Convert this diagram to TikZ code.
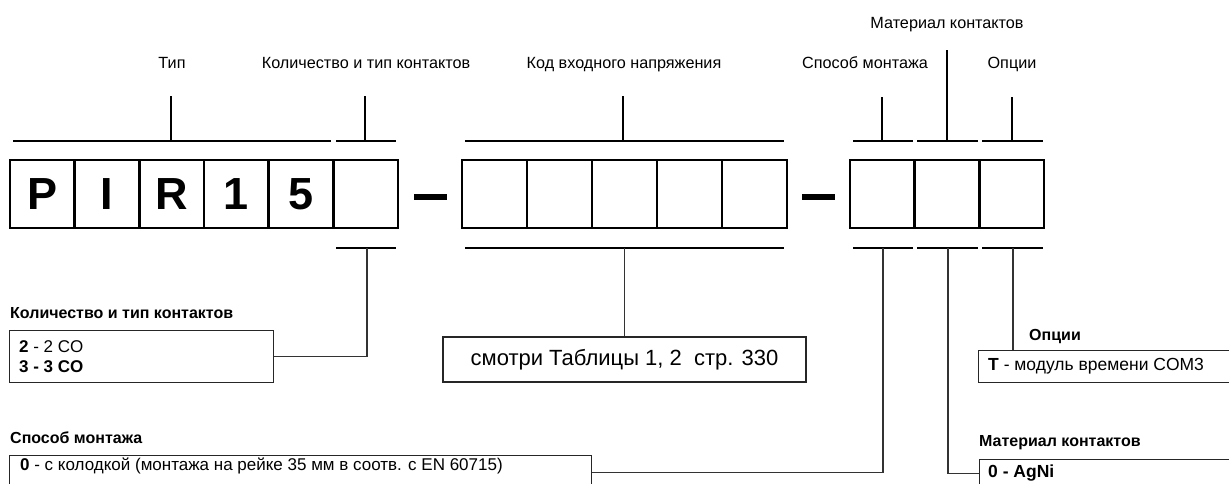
\documentclass[tikz,border=0pt]{standalone}
\usepackage{fontspec}
\setmainfont{Liberation Sans}
\begin{document}
\begin{tikzpicture}[x=1pt,y=-1pt,
 cell/.style={draw, line width=2.8pt, minimum width=64.7pt, minimum height=68pt, inner sep=0pt, font=\fontsize{45}{45}\selectfont\bfseries},
 hyph/.style={fill=black, inner sep=0pt, minimum width=33pt, minimum height=6pt},
 brk/.style={line width=1.8pt},
 conn/.style={line width=1.2pt, draw=black!80},
 lbl/.style={font=\fontsize{16.2}{19}\selectfont, inner sep=0pt, text height=11.6pt, text depth=0pt},
 blbl/.style={font=\fontsize{16}{19}\selectfont\bfseries, inner sep=0pt, anchor=west, text height=11.5pt, text depth=0pt},
 ibox/.style={draw=black!85, line width=1.2pt, anchor=north west, inner sep=0pt},
 itxt/.style={font=\fontsize{17}{20}\selectfont, inner sep=0pt, anchor=west, align=left}
]
\useasboundingbox (0,0) rectangle (1229,484);
% cells
\node[cell] (c1) at (42.3,194) {P};
\node[cell] (c2) at (107,194) {I};
\node[cell] (c3) at (171.7,194) {R};
\node[cell] (c4) at (236.3,194) {1};
\node[cell] (c5) at (301,194) {5};
\node[cell] (c6) at (365.7,194) {};
\node[hyph] (d1) at (430.5,197) {};
\node[cell, minimum width=65pt] (v1) at (494.5,194) {};
\node[cell, minimum width=65pt] (v2) at (559.5,194) {};
\node[cell, minimum width=65pt] (v3) at (624.5,194) {};
\node[cell, minimum width=65pt] (v4) at (689.5,194) {};
\node[cell, minimum width=65pt] (v5) at (754.5,194) {};
\node[hyph] (d2) at (818.5,197) {};
\node[cell] (m1) at (882.3,194) {};
\node[cell] (m2) at (947,194) {};
\node[cell] (m3) at (1011.7,194) {};
% top labels
\node[lbl] (tTip) at (172,63) {Тип};
\node[lbl] (tKol) at (366,63) {Количество и тип контактов};
\node[lbl] (tKod) at (624,63) {Код входного напряжения};
\node[lbl] (tSpo) at (865,63) {Способ монтажа};
\node[lbl] (tOpc) at (1012,63) {Опции};
\node[lbl] (tMat) at (947,23) {Материал контактов};
% top brackets
\draw[brk] (13,141) -- (331,141) (171,141) -- (171,96);
\draw[brk] (336,141) -- (396,141) (365,141) -- (365,96);
\draw[brk] (465,141) -- (784,141) (623,141) -- (623,96);
\draw[brk] (853,141) -- (913,141) (882,141) -- (882,97);
\draw[brk] (917,141) -- (978,141) (947,141) -- (947,50);
\draw[brk] (982,141) -- (1043,141) (1012,141) -- (1012,97);
% bottom brackets
\draw[brk] (336,248) -- (396,248);
\draw[brk] (465,248) -- (784,248);
\draw[brk] (853,248) -- (913,248);
\draw[brk] (917,248) -- (978,248);
\draw[brk] (982,248) -- (1043,248);
\coordinate (bKol) at (367,248);
\coordinate (bKod) at (624.5,248);
\coordinate (bSpo) at (883,248);
\coordinate (bMat) at (948,248);
\coordinate (bOpc) at (1013,248);
% bottom labels and boxes
\node[blbl] (lKol) at (10,313) {Количество и тип контактов};
\node[ibox, minimum width=264pt, minimum height=52pt] (xKol) at (9,330) {};
\node[itxt] (sKol) at (19,357) {\textbf{2} - 2 CO\\\textbf{3 - 3 CO}};
\node[ibox, minimum width=363pt, minimum height=45pt, anchor=center, font=\fontsize{22}{24}\selectfont] (xKod) at (624.5,359.5) {смотри Таблицы 1, 2\ \ стр. 330};
\node[blbl] (lOpc) at (1029,335) {Опции};
\node[ibox, minimum width=270pt, minimum height=32pt] (xOpc) at (978,350) {};
\node[itxt, font=\fontsize{17.5}{20}\selectfont] (sOpc) at (988,366) {\textbf{T} - модуль времени COM3};
\node[blbl] (lSpo) at (10,438) {Способ монтажа};
\node[ibox, minimum width=582pt, minimum height=34pt] (xSpo) at (9,455) {};
\node[itxt] (sSpo) at (20,466) {\textbf{0} - с колодкой (монтажа на рейке 35 мм в соотв. с EN 60715)};
\node[blbl] (lMat) at (979,441) {Материал контактов};
\node[ibox, minimum width=270pt, minimum height=28pt] (xMat) at (979,459) {};
\node[itxt, font=\fontsize{17.5}{20}\selectfont\bfseries] (sMat) at (988,473) {0 - AgNi};
% connectors
\draw[conn] (bKol) |- (xKol.east);
\draw[conn] (bKod) -- (xKod.north);
\draw[conn] (bSpo) |- (xSpo.east);
\draw[conn] (bMat) |- (xMat.west);
\draw[conn] (bOpc) -- (bOpc |- xOpc.north);
\end{tikzpicture}
\end{document}
